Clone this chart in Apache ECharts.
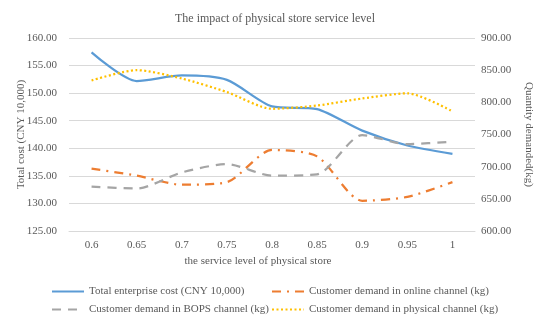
<!DOCTYPE html>
<html><head><meta charset="utf-8">
<script src="https://cdn.jsdelivr.net/npm/echarts@6/dist/echarts.min.js"></script>
<style>html,body{margin:0;padding:0;background:#fff}#c{width:550px;height:325px}</style>
</head><body><div id="c"></div>
<script>
const categories = ['0.6','0.65','0.7','0.75','0.8','0.85','0.9','0.95','1'];
const totalCost = [157.4, 152.2, 153.2, 152.4, 147.6, 147.1, 143.2, 140.5, 139.0];
const onlineDemand = [697, 686, 672, 676, 726, 716, 647, 653, 676];
const bopsDemand = [669, 666, 691, 704, 686, 688, 749, 735, 739];
const physicalDemand = [834, 850, 837, 816, 790, 795, 806, 814, 786];
const seriesNames = ['Total enterprise cost (CNY 10,000)','Customer demand in online channel (kg)','Customer demand in BOPS channel (kg)','Customer demand in physical channel (kg)'];

const font = 'Liberation Serif';
const txt = '#595959';
const chart = echarts.init(document.getElementById('c'));
const legendBase = {itemWidth: 32, itemHeight: 10, itemGap: 4,
  itemStyle: {opacity: 0},
  textStyle: {fontFamily: font, fontSize: 11, color: txt}, padding: 0};
chart.setOption({
  animation: false,
  title: {text: 'The impact of physical store service level', left: 'center', top: 8,
    textStyle: {fontFamily: font, fontSize: 12, fontWeight: 'normal', color: txt}},
  grid: {left: 69, right: 75, top: 38, bottom: 94},
  legend: [
    Object.assign({data: [seriesNames[0]], left: 51, top: 286}, legendBase),
    Object.assign({data: [seriesNames[1]], left: 271, top: 286}, legendBase),
    Object.assign({data: [seriesNames[2]], left: 51, top: 304}, legendBase),
    Object.assign({data: [seriesNames[3]], left: 271, top: 304}, legendBase)
  ],
  xAxis: {type: 'category', data: categories, boundaryGap: true,
    name: 'the service level of physical store', nameLocation: 'middle', nameGap: 24,
    nameTextStyle: {fontFamily: font, fontSize: 11, color: txt, padding: [0, 28, 0, 0]},
    axisLine: {lineStyle: {color: '#D9D9D9'}}, axisTick: {show: false},
    axisLabel: {fontFamily: font, fontSize: 11, color: txt, margin: 9}},
  yAxis: [
    {type: 'value', min: 125, max: 160, interval: 5,
      name: 'Total cost (CNY 10,000)', nameLocation: 'middle', nameGap: 42, nameMoveOverlap: false,
      nameTextStyle: {fontFamily: font, fontSize: 11, color: txt},
      axisLabel: {fontFamily: font, fontSize: 11, color: txt, margin: 12, formatter: v => v.toFixed(2)},
      splitLine: {lineStyle: {color: '#D9D9D9'}}, axisLine: {show: false}, axisTick: {show: false}},
    {type: 'value', min: 600, max: 900, interval: 50,
      name: 'Quantity demanded(kg)', nameLocation: 'middle', nameGap: 48, nameRotate: -90, nameMoveOverlap: false,
      nameTextStyle: {fontFamily: font, fontSize: 11, color: txt},
      axisLabel: {fontFamily: font, fontSize: 11, color: txt, margin: 6, formatter: v => v.toFixed(2)},
      splitLine: {show: false}, axisLine: {show: false}, axisTick: {show: false}}
  ],
  series: [
    {name: seriesNames[0], type: 'line', yAxisIndex: 0, data: totalCost, symbol: 'none', smooth: 0.25,
      color: '#5B9BD5', lineStyle: {width: 2.25, color: '#5B9BD5'}},
    {name: seriesNames[1], type: 'line', yAxisIndex: 1, data: onlineDemand, symbol: 'none', smooth: 0.25,
      color: '#ED7D31', lineStyle: {width: 2.25, color: '#ED7D31', type: [9, 6, 2, 6]}},
    {name: seriesNames[2], type: 'line', yAxisIndex: 1, data: bopsDemand, symbol: 'none', smooth: 0.25,
      color: '#A5A5A5', lineStyle: {width: 2.25, color: '#A5A5A5', type: [9, 7]}},
    {name: seriesNames[3], type: 'line', yAxisIndex: 1, data: physicalDemand, symbol: 'none', smooth: 0.25,
      color: '#FFC000', lineStyle: {width: 2.25, color: '#FFC000', type: [2, 2.5]}}
  ]
});
</script></body></html>
